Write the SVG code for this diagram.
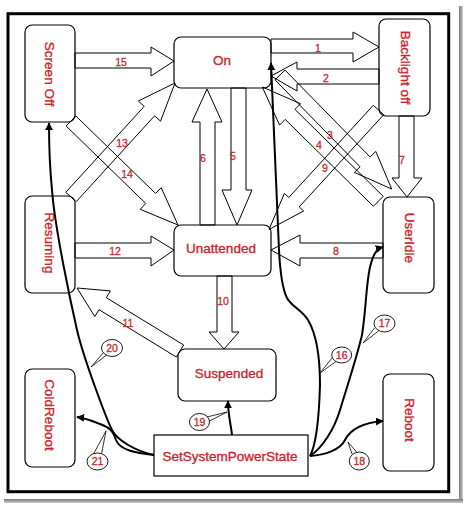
<svg xmlns="http://www.w3.org/2000/svg" width="465" height="506" viewBox="0 0 465 506">
<defs>
<style>
.box{fill:#fff;stroke:#000;stroke-width:1.2}
.lbl{font-family:"Liberation Sans",Arial,sans-serif;font-size:13.5px;fill:#c8262c;stroke:#c8262c;stroke-width:0.35;text-anchor:middle}
.num{font-family:"Liberation Sans",Arial,sans-serif;font-size:10.5px;fill:#c8262c;stroke:#c8262c;stroke-width:0.3;text-anchor:middle}
.blk{fill:none;stroke:#000;stroke-width:1;stroke-linejoin:miter}
.crv{fill:none;stroke:#000;stroke-width:2;marker-end:url(#ah)}
.call{fill:#fff;stroke:#000;stroke-width:0.9}
.ptr{fill:#fff;stroke:#000;stroke-width:0.8;stroke-linejoin:miter}
</style>
<marker id="ah" viewBox="0 0 10 10" refX="9" refY="5" markerWidth="8" markerHeight="8" markerUnits="userSpaceOnUse" orient="auto">
<path d="M0,0 L10,5 L0,10 z" fill="#000"/>
</marker>
<linearGradient id="shR" x1="0" y1="0" x2="1" y2="0"><stop offset="0" stop-color="#777"/><stop offset="1" stop-color="#ccc"/></linearGradient>
<linearGradient id="shB" x1="0" y1="0" x2="0" y2="1"><stop offset="0" stop-color="#777"/><stop offset="1" stop-color="#ccc"/></linearGradient>
</defs>
<rect width="465" height="506" fill="#fff"/>
<!-- drop shadow -->
<rect x="459" y="6" width="4" height="496" fill="url(#shR)"/>
<rect x="4" y="499" width="459" height="4" fill="url(#shB)"/>
<!-- frame -->
<rect x="8" y="13.7" width="440.7" height="478" fill="#fff" stroke="#000" stroke-width="3"/>

<g id="node-screenoff"><rect class="box" x="25" y="25" width="50" height="97" rx="7"/><text class="lbl" transform="translate(50,74) rotate(90)" x="0" y="4.8">Screen Off</text></g>
<g id="node-on"><rect class="box" x="174" y="37" width="97" height="51" rx="7"/><text class="lbl" x="222" y="65">On</text></g>
<g id="node-backlightoff"><rect class="box" x="379" y="19" width="51" height="97" rx="7"/><text class="lbl" transform="translate(406,67.5) rotate(90)" x="0" y="4.8">Backlight off</text></g>
<g id="node-resuming"><rect class="box" x="25" y="196" width="50" height="97" rx="7"/><text class="lbl" transform="translate(50,243) rotate(90)" x="0" y="4.8">Resuming</text></g>
<g id="node-unattended"><rect class="box" x="174" y="225" width="97" height="51" rx="7"/><text class="lbl" x="221" y="253">Unattended</text></g>
<g id="node-useridle"><rect class="box" x="383" y="197" width="51" height="96" rx="7"/><text class="lbl" transform="translate(410,238) rotate(90)" x="0" y="4.8">UserIdle</text></g>
<g id="node-suspended"><rect class="box" x="178" y="349" width="98" height="52" rx="7"/><text class="lbl" x="229" y="378">Suspended</text></g>
<g id="node-coldreboot"><rect class="box" x="25" y="369" width="50" height="98" rx="7"/><text class="lbl" transform="translate(50,415) rotate(90)" x="0" y="4.8">ColdReboot</text></g>
<g id="node-setsystempowerstate"><rect class="box" x="154" y="435" width="154" height="41"/><text class="lbl" x="230" y="461">SetSystemPowerState</text></g>
<g id="node-reboot"><rect class="box" x="383" y="374" width="51" height="97" rx="7"/><text class="lbl" transform="translate(410,420) rotate(90)" x="0" y="4.8">Reboot</text></g>

<g id="connectors">
<!-- block arrows -->
<polygon class="blk" points="75,53 151,53 151,47 174,61 151,76 151,68 75,68"/>
<polygon class="blk" points="271,39 353,39 353,32 379,47 353,62 353,53 271,53"/>
<polygon class="blk" points="379,69 297,69 297,62 271,76 297,91 297,84 379,84"/>
<polygon class="blk" points="200,225 200,122 192,122 207,89 222,122 215,122 215,225"/>
<polygon class="blk" points="231,88 231,190 222,190 237,225 252,190 246,190 246,88"/>
<polygon class="blk" points="399,116 399,178 392,178 407,197 422,178 414,178 414,116"/>
<polygon class="blk" points="383,243 300,243 300,235 271,250 300,266 300,258 383,258"/>
<polygon class="blk" points="75,243 151,243 151,236 174,250 151,266 151,258 75,258"/>
<polygon class="blk" points="217,276 217,332 209,332 224,349 239,332 232,332 232,276"/>
<polygon class="blk" points="76.2,201.7 154.6,115.8 160.5,121.2 175,83 138.3,101 144.2,106.4 65.8,192.3"/>
<polygon class="blk" points="66.1,126 145.8,203.5 140.2,209.3 178,225 161.2,187.7 155.6,193.5 75.9,116"/>
<polygon class="blk" points="183.7,345 106.3,297.7 110.4,290.9 77,288 94.8,316.5 99,309.7 176.3,357"/>
<polygon class="blk" points="373.3,105.3 288.8,197.5 284.4,193.4 269,229.5 303.6,211 299.2,206.9 383.7,114.7"/>
<polygon class="blk" points="275,79.9 360.1,166.8 354.4,172.4 391.7,189 375.8,151.4 370.1,157 285,70.1"/>
<polygon class="blk" points="383.2,196.3 295,109.4 300.6,103.7 262.3,87 279.6,125.1 285.2,119.4 373.4,206.3"/>
<!-- block arrow labels -->
<text class="num" x="121" y="65.7">15</text>
<text class="num" x="318" y="51.7">1</text>
<text class="num" x="326" y="81.7">2</text>
<text class="num" x="203" y="161.7">6</text>
<text class="num" x="233" y="159.7">5</text>
<text class="num" x="402" y="163.7">7</text>
<text class="num" x="330" y="138.7">3</text>
<text class="num" x="319" y="148.7">4</text>
<text class="num" x="325" y="171.7">9</text>
<text class="num" x="122" y="146.7">13</text>
<text class="num" x="127" y="177.7">14</text>
<text class="num" x="115" y="254.7">12</text>
<text class="num" x="336" y="254.7">8</text>
<text class="num" x="223" y="304.7">10</text>
<text class="num" x="128" y="326.7">11</text>
<!-- curved connectors from SetSystemPowerState -->
<path class="crv" d="M154,455 C135,451 117,440 112,430 C107,420 84,360 77,330 C72,308 55,230 52,190 C50,170 49,145 49,123"/>
<path class="crv" d="M154,455 C135,453 120,450 116,440 C113,430 108,427 100,424 C92,421 85,418 77,417"/>
<path class="crv" d="M232,435 C231,425 228,415 228,401"/>
<path class="crv" d="M310,456 C316,445 319,420 320,385 C320,360 317,335 308,320 C302,310 292,307 287,298 C282,288 280,270 279,250 C277,200 274,140 271,63"/>
<path class="crv" d="M310,456 C322,448 334,430 340,410 C346,390 356,360 362,335 C366,310 366,285 370,267 C373,255 376,249 383,247"/>
<path class="crv" d="M310,456 C325,455 340,450 345,440 C350,430 360,423 383,421"/>
<!-- callouts -->
<path class="ptr" d="M103,353 L91,367 L106.5,355"/>
<ellipse class="call" cx="112" cy="348" rx="10.5" ry="8.5"/>
<text class="num" x="112" y="351.7">20</text>
<path class="ptr" d="M93.5,454 L106,431 L101.5,454"/>
<ellipse class="call" cx="97.5" cy="461.5" rx="10.5" ry="8.5"/>
<text class="num" x="97.5" y="465.2">21</text>
<path class="ptr" d="M207,417 L227,412 L208.5,421.5"/>
<ellipse class="call" cx="199.5" cy="422" rx="10" ry="8.5"/>
<text class="num" x="199.5" y="425.7">19</text>
<path class="ptr" d="M332,358 L320,373 L336,361.5"/>
<ellipse class="call" cx="341.7" cy="355" rx="10" ry="8"/>
<text class="num" x="341.7" y="358.7">16</text>
<path class="ptr" d="M374.5,328 L363,343 L378.5,331"/>
<ellipse class="call" cx="384.5" cy="323.5" rx="10.5" ry="8.5"/>
<text class="num" x="384.5" y="327.2">17</text>
<path class="ptr" d="M352,454 L348,442 L357,452.5"/>
<ellipse class="call" cx="359.3" cy="461" rx="10" ry="9"/>
<text class="num" x="359.3" y="464.7">18</text>
</g>
</svg>
